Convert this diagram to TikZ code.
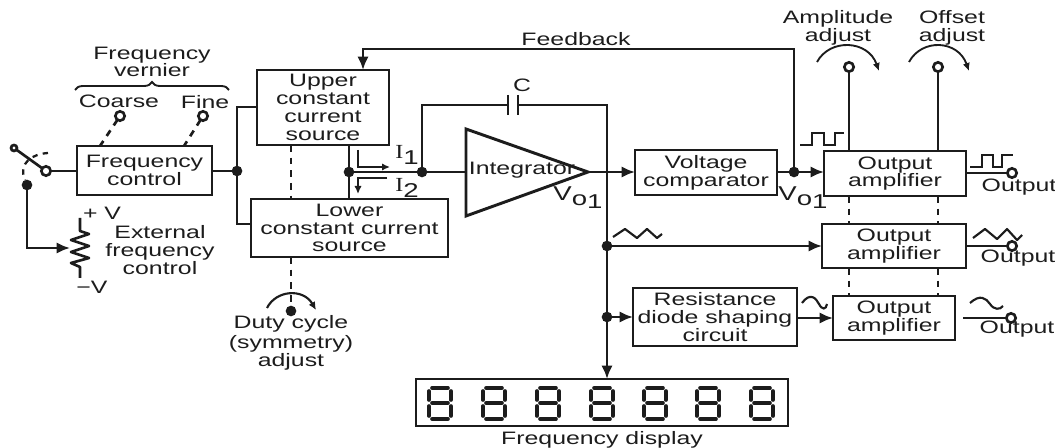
\documentclass[tikz,border=0pt]{standalone}
\usepackage{fontspec}
\setmainfont[FakeStretch=1.38]{Liberation Sans}
\newfontfamily\serifI[FakeStretch=1.2]{Liberation Serif}
\usetikzlibrary{arrows.meta,decorations.pathreplacing,calc}
\definecolor{ink}{HTML}{1C1C1C}
\newcommand{\bx}[6]{\node[boxn,minimum width={(#4-#2)*0.75pt},minimum height={(#5-#3)*0.75pt}] (#1) at ({(#2+#4)/2},{(#3+#5)/2}) {#6};}
\newcommand{\Vo}{{\fontsize{15}{15}\selectfont V\raisebox{-3.5pt}{o\raisebox{-2.5pt}{1}}}}
\newcommand{\Ii}[1]{{\fontsize{15}{15}\selectfont{\serifI I}\raisebox{-5pt}{#1}}}
\tikzset{
  x=0.75pt,y=-0.75pt,
  every node/.style={text=ink,font=\fontsize{13.5}{13.3}\selectfont,align=center,inner sep=0pt,outer sep=0pt},
  boxn/.style={draw=ink,line width=2.2pt,fill=none},
  wire/.style={draw=ink,line width=2pt,line join=miter},
  thin wire/.style={draw=ink,line width=1.4pt},
  dashw/.style={draw=ink,line width=2pt,dash pattern=on 5pt off 4.5pt},
  arr/.style={-{Latex[length=10pt,width=8.5pt]}},
  smallarr/.style={-{Latex[length=6pt,width=5.5pt]}},
  dot/.style={circle,fill=ink,draw=none,minimum size=8pt},
  term/.style={circle,draw=ink,line width=2pt,fill=white,minimum size=7pt},
  wave/.style={draw=ink,line width=1.6pt},
  seg/.style={draw=ink,line width=2.7pt,line cap=round},
}
\begin{document}
\begin{tikzpicture}
\useasboundingbox (0,0) rectangle (1055,448);
% boxes
\bx{fc}{77}{146}{212}{195}{Frequency\\control}
\bx{up}{257}{70}{389}{145}{Upper\\constant\\current\\source}
\bx{lo}{251}{199}{448}{257}{Lower\\constant current\\source}
\bx{vc}{635}{150}{777}{195}{Voltage\\comparator}
\bx{oa}{824}{151}{966}{196}{Output\\amplifier}
\bx{ob}{822}{224}{966}{268}{Output\\amplifier}
\bx{oc}{833}{296}{955}{340}{Output\\amplifier}
\bx{rd}{633}{288}{797}{346}{Resistance\\diode shaping\\circuit}
\bx{fd}{416}{379}{788}{426}{}
% integrator
\coordinate (tA) at (466,129); \coordinate (tB) at (466,216); \coordinate (tC) at (588,172);
\coordinate (tIn) at (466,172);
\draw[boxn,line join=miter] (tA) -- (tC) -- (tB) -- cycle;
\node (intg) at (522,170) {Integrator};
% labels
\node (lfv) at (152,62) {Frequency\\vernier};
\node (lco) at (119,101) {Coarse};
\node (lfi) at (205,102) {Fine};
\node (lpv) at (102,213) {+ V};
\node (lmv) at (92,287) {−V};
\node (lex) at (160,250) {External\\frequency\\control};
\node (ldc) at (291,343) {Duty cycle\\[1.5pt](symmetry)\\adjust};
\node (lfb) at (576,39) {Feedback};
\node (lc) at (522,85) {C};
\node (li1) at (407,155) {\Ii{1}};
\node (li2) at (407,188) {\Ii{2}};
\node (lv1) at (578,198) {\Vo};
\node (lv2) at (803,198) {\Vo};
\node (lam) at (838,28) {Amplitude\\adjust};
\node (lof) at (952,28) {Offset\\adjust};
\node (lo1) at (1019,187) {Output};
\node (lo2) at (1018,258) {Output};
\node (lo3) at (1017,329) {Output};
\node (lfd) at (602,440) {Frequency display};
% junctions and terminals
\node[dot] (j1) at (237,171) {};
\node[dot] (j2) at (349,172) {};
\node[dot] (j3) at (422,172) {};
\node[dot] (j4) at (607,246) {};
\node[dot] (j5) at (607,317) {};
\node[dot] (j6) at (794,172) {};
\node[dot] (jx) at (27,185) {};
\node[dot] (jd) at (291,311) {};
\node[term] (sw) at (46,171) {};
\node[term,minimum size=4.5pt] (swb) at (14,148) {};
\node[term] (tco) at (120,116) {};
\node[term] (tfi) at (203,116) {};
\node[term] (tam) at (849,67) {};
\node[term] (tof) at (938,67) {};
\node[term] (to1) at (1012,173) {};
\node[term] (to2) at (1012,246) {};
\node[term] (to3) at (1011,318) {};
% frequency section
\draw[decorate,decoration={brace,amplitude=6pt},draw=ink,line width=1.4pt] (75,90) -- (229,90);
\draw[dashw] (tco) -- (100,146);
\draw[dashw] (tfi) -- (184,146);
\draw[wire] (swb) -- (sw);
\draw[wire] (sw) -- (fc.west |- sw);
\draw[draw=ink,line width=1.7pt,dash pattern=on 4pt off 4pt] (48,153) .. controls (32,154) and (18,163) .. (jx);
\coordinate (rt) at (80,218); \coordinate (rb) at (80,278); \coordinate (rm) at (70,248);
\draw[wire,arr] (jx) |- (rm);
\draw[wire,line join=round] (rt) -- (80,231) -- (89,234) -- (71,240) -- (89,246) -- (71,252) -- (89,258) -- (71,263) -- (80,267) -- (rb);
\draw[wire] (fc.east |- j1) -- (j1);
\draw[wire] (up.west |- 0,107) -| (j1) |- (lo.west |- 0,224);
\draw[dashw] (up.south -| jd) -- (lo.north -| jd);
\draw[dashw] (lo.south -| jd) -- (jd);
\draw[draw=ink,line width=1.6pt,smallarr] (267,308) .. controls (276,290) and (303,288) .. (316,310);
% currents
\draw[wire] (up.south -| j2) -- (lo.north -| j2);
\draw[wire] (j2) -- (j3) -- (tIn);
\draw[thin wire,smallarr] (358,150) |- (390,167);
\draw[thin wire,smallarr] (387,178) -| (358,194);
% capacitor
\coordinate (cl) at (508,105); \coordinate (cr) at (518,105); \coordinate (cor) at (607,105);
\draw[wire] (j3) |- (cl);
\draw[wire] (508,95) -- (508,115);
\draw[wire] (518,95) -- (518,115);
\draw[wire,arr] (cr) -- (cor) -- (fd.north -| cor);
% main line
\draw[wire,arr] (tC) -- (vc.west |- tC);
\draw[wire,arr] (vc.east |- j6) -- (oa.west |- j6);
\draw[wire,arr] (j6) -- (794,49) -- (363,49) -- (up.north -| 363,0);
\draw[wire,arr] (j4) -- (ob.west |- j4);
\draw[wire,arr] (j5) -- (rd.west |- j5);
\draw[wire,arr] (rd.east |- oc) -- (oc.west);
% controls
\draw[wire] (tam) -- (oa.north -| tam);
\draw[wire] (tof) -- (oa.north -| tof);
\draw[draw=ink,line width=1.4pt,smallarr] (817,62) .. controls (830,38) and (868,40) .. (879,71);
\draw[draw=ink,line width=1.4pt,smallarr] (909,62) .. controls (922,38) and (958,40) .. (969,71);
\foreach \t in {tam,tof}{
  \draw[dashw] (oa.south -| \t) -- (ob.north -| \t);
  \draw[dashw] (ob.south -| \t) -- (oc.north -| \t);
}
% outputs
\draw[wire] (oa.east |- to1) -- (to1);
\draw[wire] (ob.east |- to2) -- (to2);
\draw[wire] (963,318) -- (to3);
% waveforms
\draw[wave] (800,145) -- (812,145) -- (812,133) -- (824,133) -- (824,145) -- (835,145) -- (835,133) -- (844,133);
\draw[wave] (970,167) -- (982,167) -- (982,155) -- (993,155) -- (993,167) -- (1002,167) -- (1002,155) -- (1013,155);
\draw[wave,line join=round] (613,237) -- (625,229) -- (637,238) -- (647,229) -- (657,238) -- (662,234);
\draw[wave,line join=round] (973,238) -- (985,229) -- (997,239) -- (1007,229) -- (1017,240) -- (1022,235);
\draw[wave] (802,303) .. controls (810,292) and (816,298) .. (819,304) .. controls (822,310) and (826,310) .. (827,304);
\draw[wave] (970,303) .. controls (980,294) and (986,298) .. (990,304) .. controls (994,310) and (1000,310) .. (1003,306);
% display digits
\foreach \c in {440,494,548,602,655,708,762}{
  \draw[seg] (\c-8,388) -- (\c+8,388);
  \draw[seg] (\c-8,403) -- (\c+8,403);
  \draw[seg] (\c-8,419) -- (\c+8,419);
  \draw[seg] (\c-11,391) -- (\c-11,400);
  \draw[seg] (\c+11,391) -- (\c+11,400);
  \draw[seg] (\c-11,406) -- (\c-11,416);
  \draw[seg] (\c+11,406) -- (\c+11,416);
}
\end{tikzpicture}
\end{document}
